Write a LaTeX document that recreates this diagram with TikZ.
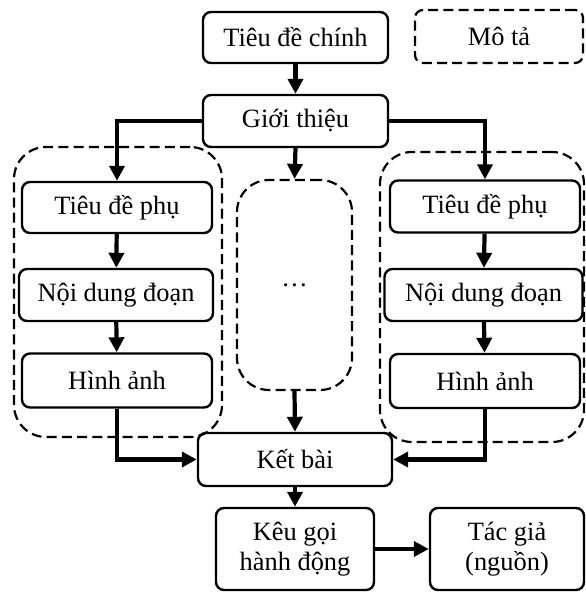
\documentclass[tikz,border=0pt]{standalone}
\usepackage{fontspec}
\setmainfont{Liberation Serif}
\usetikzlibrary{arrows.meta}

\tikzset{
  box/.style={draw, line width=1.2pt, rounded corners=4pt, align=center,
    inner sep=0pt, font=\fontsize{13.2}{15}\selectfont},
  group/.style={draw, dash pattern=on 5pt off 2.6pt, line width=1.1pt,
    rounded corners=16pt, inner sep=0pt},
  link/.style={line width=2.1pt, -{Triangle[length=7.5pt,width=7.5pt]}},
}

\begin{document}
\begin{tikzpicture}[x=0.5pt, y=-0.5pt]
    \useasboundingbox (0,0) rectangle (585,593);

    % dashed groups
    \node[group, minimum width=104pt, minimum height=145pt] (GL) at (118, 292) {};
    \node[group, minimum width=102pt, minimum height=145pt] (GR) at (482, 297) {};
    \node[group, minimum width=57.5pt, minimum height=105pt, font=\fontsize{13.2}{15}\selectfont] (M) at (294.5, 285) {\dots};
    \node[group, rounded corners=4pt, minimum width=84pt, minimum height=26.5pt, font=\fontsize{13.2}{15}\selectfont] (D) at (499, 36.5) {Mô tả};

    \node[box, minimum width=92.5pt, minimum height=25.5pt] (T) at (295.5, 37.5) {Tiêu đề chính};
    \node[box, minimum width=92.5pt, minimum height=26pt] (I) at (295.5, 121) {Giới thiệu};

    \node[box, minimum width=95pt, minimum height=25.5pt] (LS) at (117, 207.5) {Tiêu đề phụ};
    \node[box, minimum width=97pt, minimum height=26pt] (LP) at (116, 295) {Nội dung đoạn};
    \node[box, minimum width=95pt, minimum height=27pt] (LH) at (117, 380.5) {Hình ảnh};

    \node[box, minimum width=95pt, minimum height=26pt] (RS) at (485, 206.5) {Tiêu đề phụ};
    \node[box, minimum width=99pt, minimum height=26pt] (RP) at (483.5, 295) {Nội dung đoạn};
    \node[box, minimum width=95pt, minimum height=27pt] (RH) at (485, 381) {Hình ảnh};

    \node[box, minimum width=97pt, minimum height=26.5pt] (K) at (295, 459.5) {Kết bài};
    \node[box, minimum width=79pt, minimum height=41pt] (C) at (295, 549) {Kêu gọi\\hành động};
    \node[box, minimum width=77pt, minimum height=41pt] (A) at (507, 549) {Tác giả\\(nguồn)};

    \draw[link] (T.south) -- (I.north);
    \draw[link] (I.west) -| (LS.north);
    \draw[link] (I.east) -| (RS.north);
    \draw[link] (I.south) -- (M.north);
    \draw[link] (LS) -- (LP);
    \draw[link] (LP) -- (LH);
    \draw[link] (RS) -- (RP);
    \draw[link] (RP) -- (RH);
    \draw[link] (LH.south) |- (K.west);
    \draw[link] (RH.south) |- (K.east);
    \draw[link] (M.south) -- (K.north);
    \draw[link] (K.south) -- (C.north);
    \draw[link] (C) -- (A);
\end{tikzpicture}
\end{document}
